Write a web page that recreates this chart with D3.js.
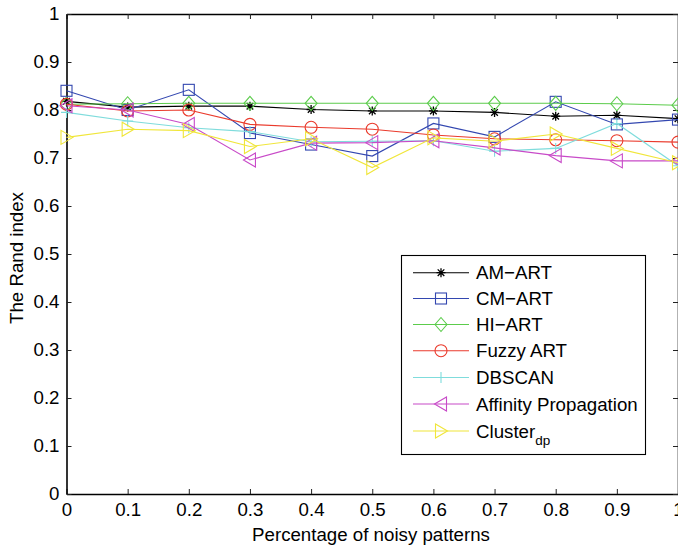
<!DOCTYPE html>
<html><head><meta charset="utf-8">
<script src="https://cdn.jsdelivr.net/npm/d3@7"></script>
<style>
html,body{margin:0;padding:0;background:#fff;}
svg{display:block;font-family:"Liberation Sans",Arial,sans-serif;}
</style></head>
<body>
<svg id="c" width="678" height="548"></svg>
<script>
const xValues = [0,0.1,0.2,0.3,0.4,0.5,0.6,0.7,0.8,0.9,1];
const xTicks = [0,0.1,0.2,0.3,0.4,0.5,0.6,0.7,0.8,0.9,1];
const yTicks = [0,0.1,0.2,0.3,0.4,0.5,0.6,0.7,0.8,0.9,1];
const seriesNames = ["AM\u2212ART","CM\u2212ART","HI\u2212ART","Fuzzy ART","DBSCAN","Affinity Propagation","Cluster"];
const amArt    = [0.818,0.806,0.808,0.808,0.801,0.798,0.798,0.795,0.787,0.789,0.782];
const cmArt    = [0.840,0.800,0.842,0.752,0.728,0.704,0.772,0.744,0.817,0.770,0.780];
const hiArt    = [0.812,0.813,0.814,0.814,0.814,0.814,0.814,0.814,0.814,0.813,0.810];
const fuzzyArt = [0.812,0.798,0.800,0.770,0.764,0.760,0.748,0.740,0.738,0.736,0.733];
const dbscan   = [0.795,0.777,0.763,0.755,0.734,0.735,0.736,0.714,0.720,0.772,0.684];
const affinity = [0.809,0.800,0.770,0.696,0.731,0.732,0.736,0.721,0.705,0.694,0.694];
const clusterDp= [0.743,0.760,0.757,0.724,0.740,0.680,0.742,0.735,0.750,0.720,0.690];

const seriesValues = [amArt,cmArt,hiArt,fuzzyArt,dbscan,affinity,clusterDp];
const colors = ["#000000","#3347b0","#5ccc4c","#ea3a2c","#7fdcdc","#c84ac8","#f0e63a"];
const markers = ["star","square","diamond","circle","plus","left","right"];
const FS = 18.7;

const svg = d3.select("#c");
const x = d3.scaleLinear().domain([0,1]).range([66.5,678]);
const y = d3.scaleLinear().domain([0,1]).range([494,14]);

// axes
const fmt = d => String(+d.toFixed(1));
const gx = svg.append("g").attr("transform","translate(0,494)")
  .call(d3.axisBottom(x).tickValues(xTicks).tickFormat(fmt).tickSizeInner(-5).tickSizeOuter(0).tickPadding(9));
const gxt = svg.append("g").attr("transform","translate(0,14)")
  .call(d3.axisTop(x).tickValues(xTicks).tickFormat("").tickSizeInner(-5).tickSizeOuter(0));
const gy = svg.append("g").attr("transform","translate(66.5,0)")
  .call(d3.axisLeft(y).tickValues(yTicks).tickFormat(fmt).tickSizeInner(-5).tickSizeOuter(0).tickPadding(7));
const gyr = svg.append("g").attr("transform","translate(678,0)")
  .call(d3.axisRight(y).tickValues(yTicks).tickFormat("").tickSizeInner(-5).tickSizeOuter(0));
[gx,gxt,gy,gyr].forEach(g=>{
  g.select(".domain").attr("stroke","#000").attr("stroke-width",1.6);
  g.selectAll(".tick line").attr("stroke","#222").attr("stroke-width",1);
  g.selectAll(".tick text").attr("font-size",FS).attr("fill","#000")
   .attr("font-family","'Liberation Sans',Arial,sans-serif");
});

// axis titles
svg.append("text").attr("x",371).attr("y",541).attr("text-anchor","middle")
  .attr("font-size",FS).text("Percentage of noisy patterns");
svg.append("text").attr("transform","translate(23,258) rotate(-90)").attr("text-anchor","middle")
  .attr("font-size",FS).text("The Rand index");

function drawMarker(g,type,cx,cy,color){
  if(type==="star"){
    g.append("path").attr("d",`M${cx-4.5},${cy}H${cx+4.5}M${cx},${cy-4.5}V${cy+4.5}M${cx-3.3},${cy-3.3}L${cx+3.3},${cy+3.3}M${cx-3.3},${cy+3.3}L${cx+3.3},${cy-3.3}`)
      .attr("stroke",color).attr("stroke-width",1.3).attr("fill","none");
  } else if(type==="square"){
    g.append("rect").attr("x",cx-5.5).attr("y",cy-5.5).attr("width",11).attr("height",11)
      .attr("stroke",color).attr("fill","none").attr("stroke-width",1.1);
  } else if(type==="diamond"){
    g.append("path").attr("d",`M${cx},${cy-7}L${cx+6},${cy}L${cx},${cy+7}L${cx-6},${cy}Z`)
      .attr("stroke",color).attr("fill","none").attr("stroke-width",1.1);
  } else if(type==="circle"){
    g.append("circle").attr("cx",cx).attr("cy",cy).attr("r",6)
      .attr("stroke",color).attr("fill","none").attr("stroke-width",1.1);
  } else if(type==="plus"){
    g.append("path").attr("d",`M${cx-5.5},${cy}H${cx+5.5}M${cx},${cy-5.5}V${cy+5.5}`)
      .attr("stroke",color).attr("fill","none").attr("stroke-width",1.1);
  } else if(type==="left"){
    g.append("path").attr("d",`M${cx-6.5},${cy}L${cx+5.5},${cy-7}L${cx+5.5},${cy+7}Z`)
      .attr("stroke",color).attr("fill","none").attr("stroke-width",1.1);
  } else if(type==="right"){
    g.append("path").attr("d",`M${cx+6.5},${cy}L${cx-5.5},${cy-7}L${cx-5.5},${cy+7}Z`)
      .attr("stroke",color).attr("fill","none").attr("stroke-width",1.1);
  }
}

const plot = svg.append("g");
const line = d3.line().x((d,i)=>x(xValues[i])).y(d=>y(d));
seriesValues.forEach((vals,k)=>{
  const g = plot.append("g");
  g.append("path").attr("d",line(vals)).attr("fill","none").attr("stroke",colors[k]).attr("stroke-width",1.1);
  vals.forEach((v,i)=>drawMarker(g,markers[k],x(xValues[i]),y(v),colors[k]));
});

// legend
const lg = svg.append("g");
lg.append("rect").attr("x",401.5).attr("y",255.5).attr("width",244).attr("height",199)
  .attr("fill","#fff").attr("stroke","#000").attr("stroke-width",1.1);
const rowY = [272.7,298.5,324.5,350.7,377.5,404,431];
seriesNames.forEach((name,k)=>{
  const ry = rowY[k];
  lg.append("line").attr("x1",413).attr("x2",469).attr("y1",ry).attr("y2",ry)
    .attr("stroke",colors[k]).attr("stroke-width",1.1);
  drawMarker(lg,markers[k],441,ry,colors[k]);
  const t = lg.append("text").attr("x",476).attr("y",ry+6.5).attr("font-size",FS).text(name);
  if(k===6){
    t.append("tspan").attr("dy",7).attr("font-size",13.5).text("dp");
  }
});
</script>
</body></html>
